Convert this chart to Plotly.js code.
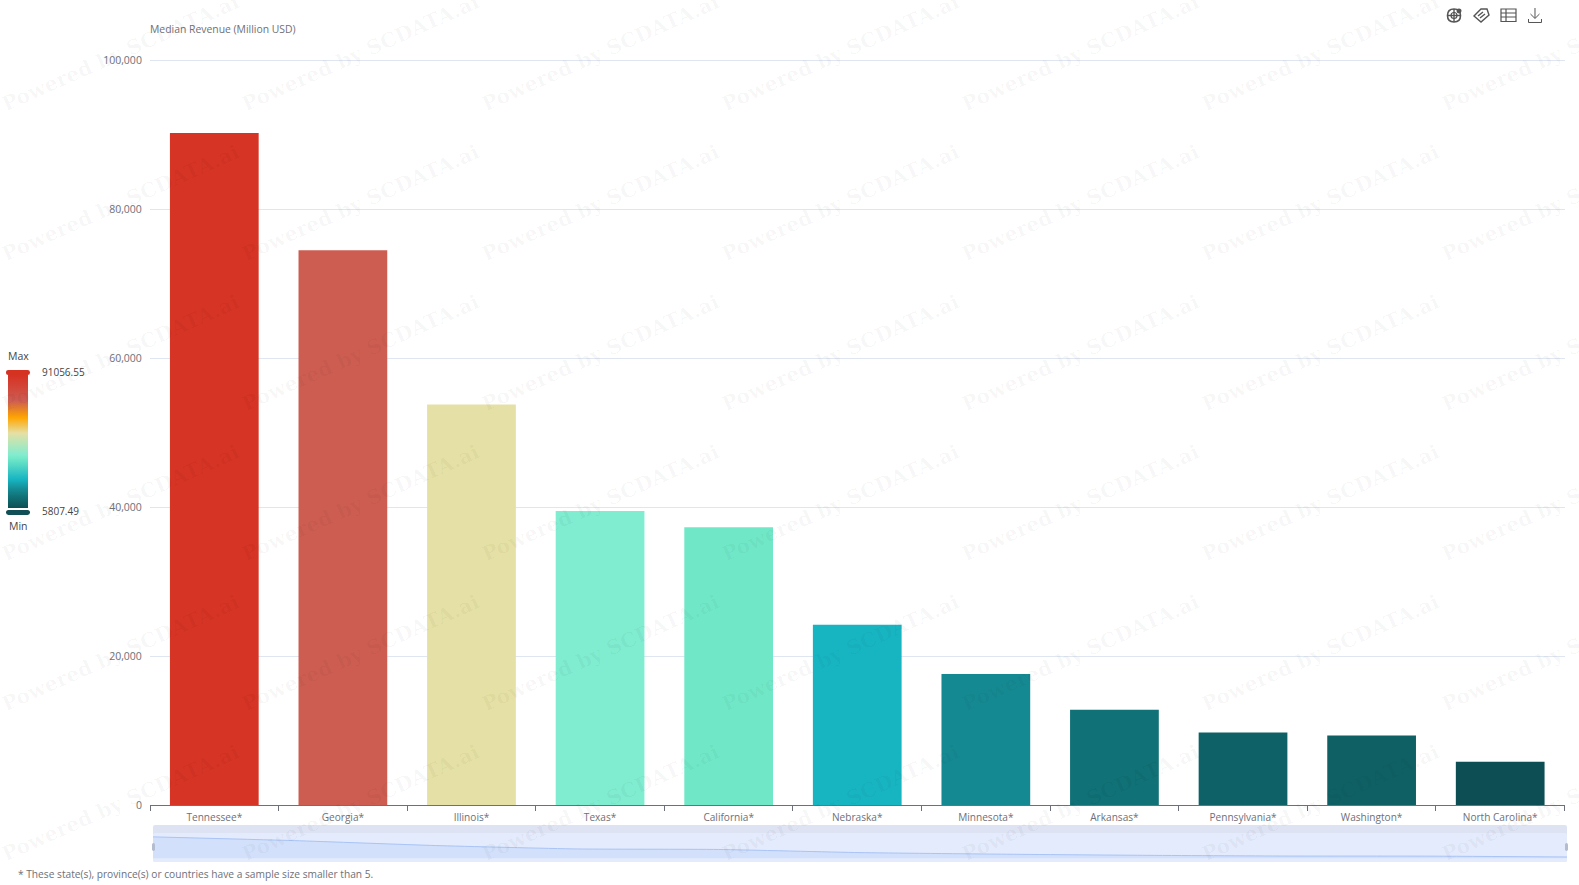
<!DOCTYPE html>
<html>
<head>
<meta charset="utf-8">
<script src="https://cdn.plot.ly/plotly-3.0.0.min.js"></script>
<style>html,body{margin:0;padding:0;background:#fff;overflow:hidden}#chart{width:1579px;height:885px}</style>
</head>
<body>
<div id="chart"></div>
<script>
const states = ["Tennessee*","Georgia*","Illinois*","Texas*","California*","Nebraska*","Minnesota*","Arkansas*","Pennsylvania*","Washington*","North Carolina*"];
const medianRevenue = [90250,74500,53800,39500,37300,24200,17600,12800,9730,9320,5807.49];
const colorMin = 5807.49;
const colorMax = 91056.55;
const yTicks = [0,20000,40000,60000,80000,100000];
const colorStops = [[0,"#0c4e53"],[0.08,"#107075"],[0.14,"#158a93"],[0.216,"#17b5c2"],[0.37,"#70e8c8"],[0.396,"#80ecd0"],[0.563,"#e5e0a5"],[0.68,"#ffa500"],[0.807,"#cd5c52"],[1,"#d63222"]];
const yTitle = "Median Revenue (Million USD)";
const footnote = "* These state(s), province(s) or countries have a sample size smaller than 5.";
const watermark = "Powered by SCDATA.ai";

const W = 1579, H = 885;
const fx = x => x / W, fy = y => 1 - y / H;
const P = (x, y) => fx(x).toFixed(5) + "," + fy(y).toFixed(5);
const font = '"Open Sans","Noto Sans",sans-serif';

function rr(x0, y0, x1, y1, r) {
  return "M" + P(x0 + r, y0) + " L" + P(x1 - r, y0) + " Q" + P(x1, y0) + " " + P(x1, y0 + r) +
    " L" + P(x1, y1 - r) + " Q" + P(x1, y1) + " " + P(x1 - r, y1) +
    " L" + P(x0 + r, y1) + " Q" + P(x0, y1) + " " + P(x0, y1 - r) +
    " L" + P(x0, y0 + r) + " Q" + P(x0, y0) + " " + P(x0 + r, y0) + " Z";
}
const base = {type: "path", xref: "paper", yref: "paper"};
const fillShape = (path, color, layer) => Object.assign({}, base, {path, fillcolor: color, line: {width: 0}, layer: layer || "above"});
const lineShape = (path, color, w) => Object.assign({}, base, {path, line: {color, width: w || 1.2}, layer: "above"});
function circle(cx, cy, r) {
  const k = r;
  return "M" + P(cx - r, cy) + " Q" + P(cx - k, cy - k) + " " + P(cx, cy - r) + " Q" + P(cx + k, cy - k) + " " + P(cx + r, cy) +
    " Q" + P(cx + k, cy + k) + " " + P(cx, cy + r) + " Q" + P(cx - k, cy + k) + " " + P(cx - r, cy) + " Z";
}
const ic = "#555";
const shapes = [
  fillShape(rr(153, 825, 1567, 862, 2), "#dde3f3", "below"),
  fillShape(rr(153, 833, 1567, 862, 2), "#e4ebfc", "below"),
  fillShape(rr(6, 370, 30, 375, 2.5), "#d63222"),
  fillShape(rr(6, 510, 30, 515, 2.5), "#0f4f55"),
  fillShape(rr(152, 843, 155, 851, 1.5), "#b4bdd0"),
  fillShape(rr(1565, 843, 1568, 851, 1.5), "#b4bdd0"),
  // globe
  lineShape(circle(1454, 15.5, 6.5), ic, 1.6),
  lineShape("M" + P(1447.5, 15.5) + " L" + P(1460.5, 15.5), ic, 1.4),
  lineShape("M" + P(1454, 9) + " L" + P(1454, 22), ic, 1.4),
  lineShape(circle(1454, 15.5, 3), ic, 1.2),
  fillShape(circle(1459, 11, 2.5), ic),
  // tag
  lineShape("M" + P(1487, 9) + " L" + P(1489, 15) + " L" + P(1481, 22) + " L" + P(1474, 16) + " L" + P(1481, 9) + " Z", ic, 1.4),
  lineShape("M" + P(1478, 16) + " L" + P(1483, 12) + " M" + P(1480, 18) + " L" + P(1485, 14), ic, 1.4),
  // table
  lineShape("M" + P(1501, 9) + " L" + P(1516, 9) + " L" + P(1516, 21.5) + " L" + P(1501, 21.5) + " Z", ic, 1.2),
  lineShape("M" + P(1501, 13) + " L" + P(1516, 13) + " M" + P(1501, 17) + " L" + P(1516, 17) + " M" + P(1506, 9) + " L" + P(1506, 21.5), ic, 1.2),
  // download
  lineShape("M" + P(1535, 8) + " L" + P(1535, 18) + " M" + P(1530.5, 14) + " L" + P(1535, 18.5) + " L" + P(1539.5, 14), ic, 1),
  lineShape("M" + P(1528.5, 19) + " L" + P(1528.5, 22.5) + " L" + P(1541.5, 22.5) + " L" + P(1541.5, 19), ic, 1)
];

const txt = (text, x, y, anchor, size, color) => ({text, x: fx(x), y: fy(y), xref: "paper", yref: "paper", xanchor: anchor, yanchor: "middle", showarrow: false, font: {family: font, size, color}});
const annotations = [
  txt(yTitle, 148, 29, "left", 10.4, "#6e7079"),
  txt(footnote, 16, 874, "left", 10.2, "#6e7079"),
  txt("Max", 18, 355.5, "center", 10.5, "#444"),
  txt("Min", 18, 526, "center", 10.5, "#444"),
  txt(String(colorMax), 40, 372, "left", 10, "#444"),
  txt(String(colorMin), 40, 511, "left", 10, "#444")
];
for (let r = 0; r < 6; r++) for (let c = 0; c < 7; c++) {
  annotations.push({text: watermark, x: fx(120 + 240 * c), y: fy(53 + 150 * r), xref: "paper", yref: "paper", xanchor: "center", yanchor: "middle", showarrow: false, textangle: -24, font: {family: '"DejaVu Serif",serif', size: 20.3, color: "rgba(0,0,0,0.035)", weight: 700}});
}

const traces = [
  {type: "bar", x: states, y: medianRevenue, xaxis: "x", yaxis: "y", hoverinfo: "x+y",
    marker: {color: medianRevenue, cmin: colorMin, cmax: colorMax, colorscale: colorStops, line: {width: 0},
      colorbar: {xref: "container", yref: "container", x: 8 / W, xanchor: "left", y: 1 - 375 / H, yanchor: "top",
        thickness: 20, thicknessmode: "pixels", len: 133, lenmode: "pixels", outlinewidth: 0, borderwidth: 0, xpad: 0, ypad: 0,
        ticks: "", showticklabels: false}}},
  {type: "scatter", mode: "lines", x: medianRevenue.map((v, i) => i), y: medianRevenue, xaxis: "x2", yaxis: "y2", hoverinfo: "skip",
    line: {color: "#a9c4f5", width: 1, shape: "spline", smoothing: 0.5}, fill: "tozeroy", fillcolor: "#d2e0fb"}
];

const layout = {
  width: W, height: H, margin: {l: 0, r: 0, t: 0, b: 0, autoexpand: false},
  paper_bgcolor: "#fff", plot_bgcolor: "rgba(0,0,0,0)", showlegend: false, bargap: 0.31, font: {family: font},
  xaxis: {domain: [fx(150), fx(1564.5)], type: "category", range: [-0.5, 10.5], tickson: "boundaries", ticks: "outside", ticklen: 5, tickcolor: "#6e7079", tickwidth: 1,
    showline: true, linecolor: "#6e7079", linewidth: 1, showgrid: false, tickangle: 0, ticklabelstandoff: 3, tickfont: {family: font, size: 10.1, color: "#6e7079"}, fixedrange: true},
  yaxis: {domain: [fy(805), fy(58.5)], range: [0, 100269], tickvals: yTicks, tickformat: ",d", ticks: "outside", ticklen: 5, tickcolor: "rgba(0,0,0,0)",
    showline: false, gridcolor: "#e0e6f1", gridwidth: 1, zeroline: false, tickfont: {family: font, size: 10.5, color: "#6e7079"}, fixedrange: true},
  xaxis2: {domain: [fx(153), fx(1567)], anchor: "y2", range: [0, 10], visible: false, fixedrange: true},
  yaxis2: {domain: [fy(862), fy(833)], anchor: "x2", range: [-15300, 106500], visible: false, fixedrange: true},
  shapes, annotations
};
Plotly.newPlot("chart", traces, layout, {displayModeBar: false, responsive: false});
</script>
</body>
</html>
